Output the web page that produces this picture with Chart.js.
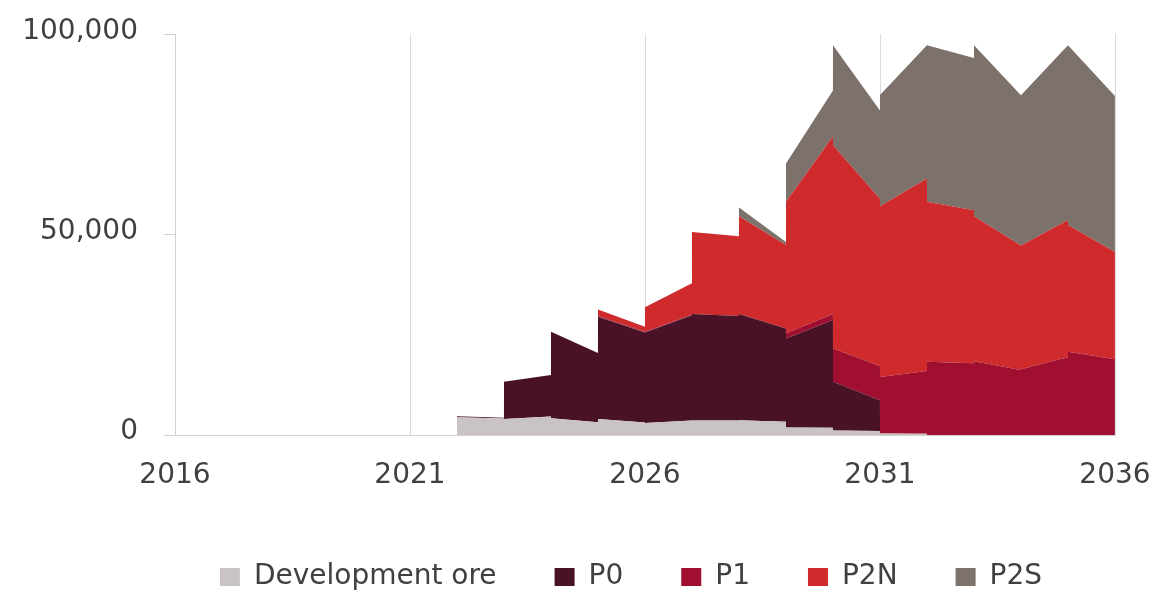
<!DOCTYPE html>
<html>
<head>
<meta charset="utf-8">
<title>Ore production by source</title>
<script src="https://cdn.jsdelivr.net/npm/chart.js@4.4.1/dist/chart.umd.min.js"></script>
<style>
  html, body { margin: 0; padding: 0; background: #ffffff; }
  #wrap { width: 1157px; height: 593px; }
</style>
</head>
<body>
<div id="wrap"><canvas id="chart" width="1157" height="593"></canvas></div>
<script>
// Production years; each year is drawn as a segment from its start value to its end value
const years = [2022, 2023, 2024, 2025, 2026, 2027, 2028, 2029, 2030, 2031, 2032, 2033, 2034, 2035];

// [start of year, end of year] tonnes, per source
const developmentOre = [[4400, 4100], [4000, 4600], [4200, 3200], [4000, 3100], [3000, 3600], [3600, 3600], [3700, 3300],
                        [1900, 1800], [1100, 1000], [400, 300], [0, 0], [0, 0], [0, 0], [0, 0]];
const p0  = [[300, 200], [9300, 10400], [21600, 17300], [25500, 22500], [22600, 26300], [26600, 26100], [26500, 23300],
             [22200, 26900], [12200, 7700], [0, 0], [0, 0], [0, 0], [0, 0], [0, 0]];
const p1  = [[0, 0], [0, 0], [0, 0], [200, 200], [200, 200], [0, 0], [0, 0],
             [1300, 1500], [8300, 8500], [14100, 15700], [18300, 17900], [18400, 16200], [16400, 19400], [20800, 18900]];
const p2n = [[0, 0], [0, 0], [0, 0], [1600, 1200], [6100, 7800], [20500, 19900], [24400, 20800],
             [32800, 44400], [50700, 41800], [42600, 48000], [39900, 38200], [36200, 31100], [30900, 34300], [31600, 26800]];
const p2s = [[0, 0], [0, 0], [0, 0], [0, 0], [0, 0], [0, 0], [2200, 800],
             [9600, 11400], [25000, 22000], [27800, 33300], [39100, 38000], [42700, 37500], [37500, 43600], [44900, 38900]];

const seriesNames = ['Development ore', 'P0', 'P1', 'P2N', 'P2S'];
const seriesColors = ['#c9c3c6', '#4a1226', '#a00e30', '#cf2a2c', '#7c716b'];
const yTicks = [0, 50000, 100000];
const xTickYears = [2016, 2021, 2026, 2031, 2036];

// Turn [start, end] pairs into x/y points on a continuous year axis
function yearSegments(pairs) {
  const pts = [];
  years.forEach((yr, i) => {
    pts.push({ x: yr, y: pairs[i][0] });
    pts.push({ x: yr + 0.999, y: pairs[i][1] });
  });
  return pts;
}

const seriesValues = [developmentOre, p0, p1, p2n, p2s];
const datasets = seriesValues.map((vals, i) => ({
  label: seriesNames[i],
  data: yearSegments(vals),
  backgroundColor: seriesColors[i],
  borderColor: seriesColors[i],
  borderWidth: 0,
  pointRadius: 0,
  tension: 0,
  fill: i === 0 ? 'origin' : '-1'
}));

const textColor = '#404040';
const fontFamily = "'DejaVu Sans', sans-serif";
const legendCenterX = 631;

// Moves the bottom legend so its row is centred on legendCenterX
const legendOffset = {
  id: 'legendOffset',
  afterLayout(chart) {
    const lg = chart.legend;
    if (!lg) return;
    const dx = legendCenterX - (lg.left + lg.right) / 2;
    lg.left += dx;
    lg.right += dx;
  }
};

new Chart(document.getElementById('chart'), {
  type: 'line',
  data: { datasets },
  plugins: [legendOffset],
  options: {
    responsive: false,
    animation: false,
    locale: 'en-US',
    layout: { padding: { left: 10, right: 42, top: 34, bottom: -8 } },
    plugins: {
      legend: {
        position: 'bottom',
        labels: {
          color: textColor,
          font: { family: fontFamily, size: 28 },
          boxWidth: 20,
          boxHeight: 18,
          padding: 58
        }
      },
      tooltip: { enabled: false }
    },
    scales: {
      x: {
        type: 'linear',
        min: xTickYears[0],
        max: xTickYears[xTickYears.length - 1],
        afterBuildTicks: (scale) => { scale.ticks = xTickYears.map(v => ({ value: v })); },
        afterFit: (scale) => { scale.height = 70; },
        grid: { color: '#dadada', lineWidth: 1, drawTicks: false },
        border: { color: '#d4d0d2', width: 1 },
        ticks: {
          color: textColor,
          font: { family: fontFamily, size: 28, lineHeight: 2.71 },
          padding: 3,
          maxRotation: 0,
          callback: (v) => String(v)
        }
      },
      y: {
        stacked: true,
        min: 0,
        max: 100000,
        afterBuildTicks: (scale) => { scale.ticks = yTicks.map(v => ({ value: v })); },
        afterFit: (scale) => { scale.width = 165; },
        grid: { drawOnChartArea: false, drawTicks: true, tickLength: 11, color: '#d4d0d2' },
        border: { color: '#d4d0d2', width: 1 },
        ticks: {
          color: textColor,
          font: { family: fontFamily, size: 28, lineHeight: 0.6 },
          padding: 26,
          labelOffset: -3,
          callback: (v) => v.toLocaleString('en-US')
        }
      }
    }
  }
});
</script>
</body>
</html>
